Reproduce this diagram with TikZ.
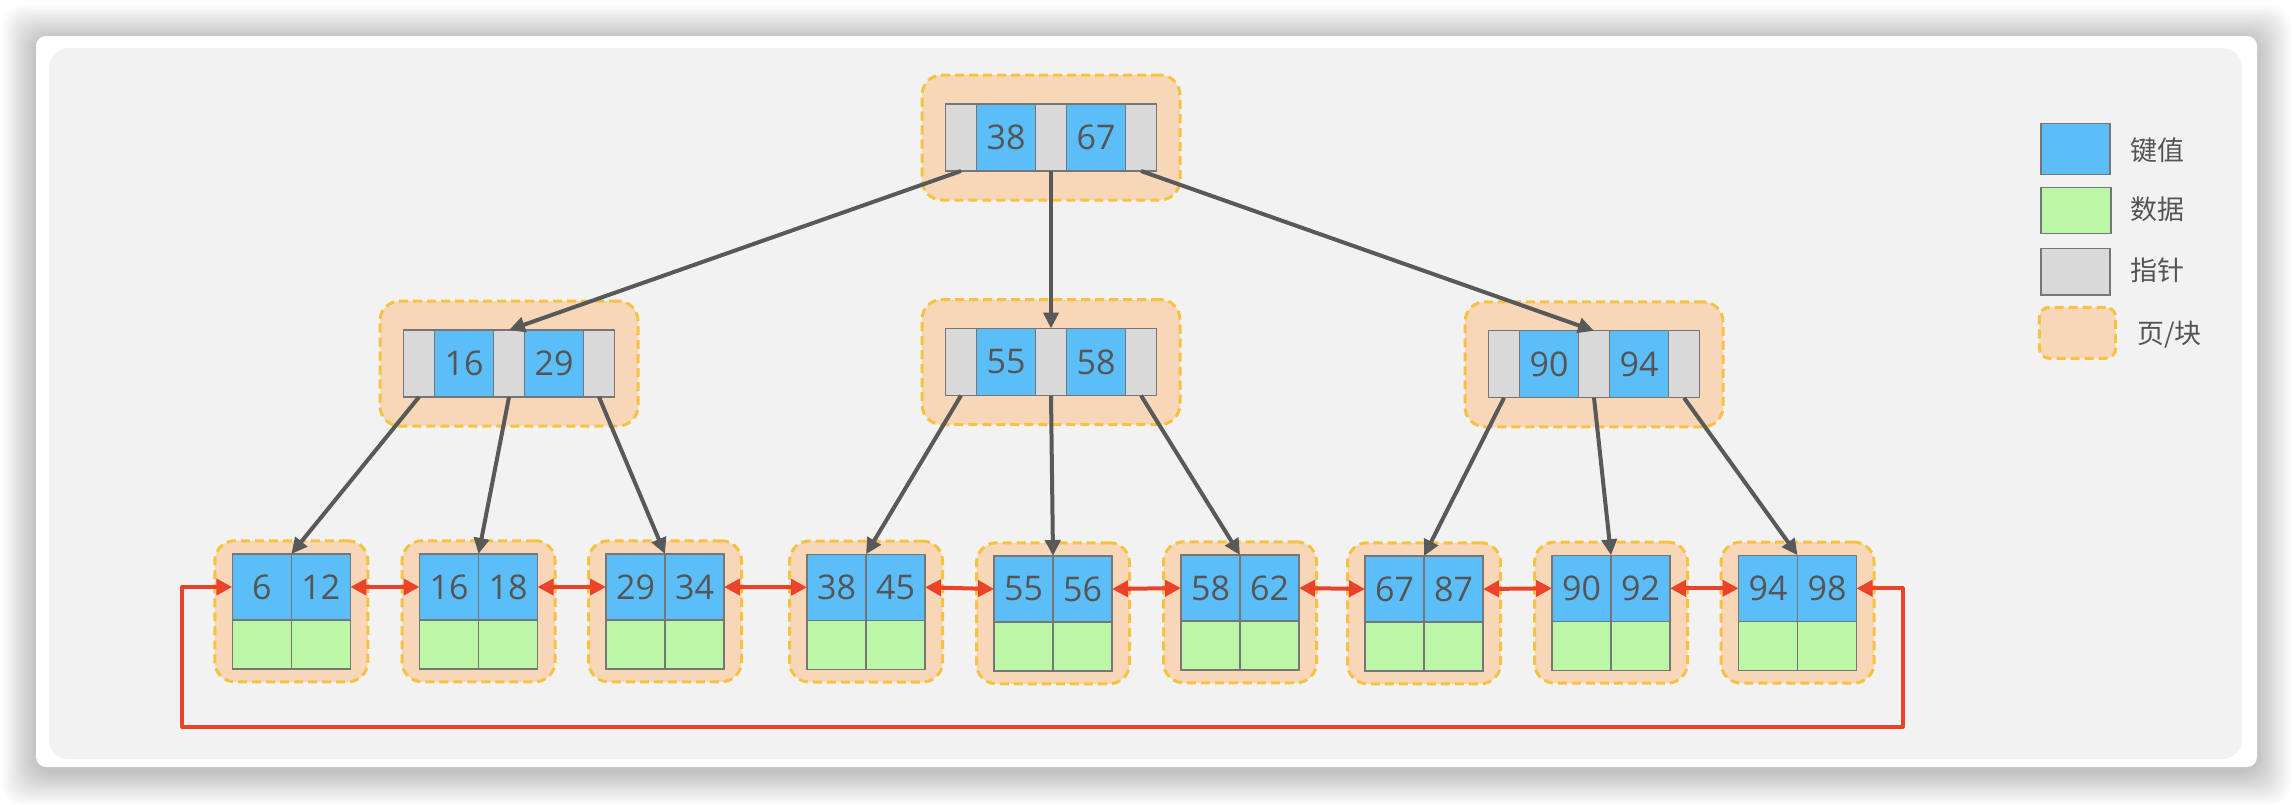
\documentclass[tikz,border=0pt]{standalone}
\usepackage{fontspec}
\newfontfamily\numfont{Open Sans}
\newfontfamily\cjk{Noto Sans CJK SC}
\usetikzlibrary{arrows.meta}
\definecolor{keyblue}{RGB}{91,190,249}
\definecolor{datagreen}{RGB}{187,247,166}
\definecolor{ptrgray}{RGB}{217,217,217}
\definecolor{pagefill}{RGB}{247,215,184}
\definecolor{pageborder}{RGB}{246,194,66}
\definecolor{cellborder}{RGB}{118,118,118}
\definecolor{txtgray}{RGB}{85,85,85}
\definecolor{arrowgray}{RGB}{89,89,89}
\definecolor{linkred}{RGB}{234,67,42}
\definecolor{bggray}{RGB}{242,242,242}
\tikzset{
  cellbase/.style={draw=cellborder, line width=0.6pt, inner sep=0pt, outer sep=0pt,
    text=txtgray, font=\numfont\fontsize{17pt}{20pt}\selectfont},
  keycell/.style={cellbase, fill=keyblue, minimum width=29.5pt, minimum height=33.5pt},
  ptrcell/.style={cellbase, fill=ptrgray, minimum width=15.5pt, minimum height=33.5pt},
  leafkey/.style={cellbase, fill=keyblue, minimum width=29.5pt, minimum height=33pt},
  datacell/.style={cellbase, fill=datagreen, minimum width=29.5pt, minimum height=24.5pt},
  pagebox/.style={fill=pagefill, draw=pageborder, dash pattern=on 4.5pt off 2.5pt,
    line width=1.5pt, rounded corners=10pt, inner sep=0pt},
  grayarrow/.style={draw=arrowgray, line width=2pt, -{Triangle[length=8pt,width=7.5pt]}},
  redarrow/.style={draw=linkred, line width=2pt, line join=round,
    {Triangle[length=8pt,width=8pt]}-{Triangle[length=8pt,width=8pt]}},
  legendtext/.style={anchor=west, inner sep=0pt, text=txtgray, font=\cjk\fontsize{13.5pt}{16pt}\selectfont},
}
% inner node: name, cx, cy, key1, key2
\newcommand\innernode[5]{%
  \node[pagebox, minimum width=129pt, minimum height=62.5pt] (#1) at (#2,#3) {};
  \node[ptrcell] (#1p0) at ({#2-90},#3) {};
  \node[keycell] (#1k0) at ({#2-45},#3) {#4};
  \node[ptrcell] (#1p1) at (#2,#3) {};
  \node[keycell] (#1k1) at ({#2+45},#3) {#5};
  \node[ptrcell] (#1p2) at ({#2+90},#3) {};
}
% leaf node: name, cx, top, key1, key2
\newcommand\leafnode[5]{%
  \node[pagebox, minimum width=76.5pt, minimum height=70.5pt] (#1) at (#2,{#3+57.25}) {};
  \node[leafkey] (#1a) at ({#2-29.5},{#3+33}) {#4};
  \node[leafkey] (#1b) at ({#2+29.5},{#3+33}) {#5};
  \node[datacell] (#1c) at ({#2-29.5},{#3+90.5}) {};
  \node[datacell] (#1d) at ({#2+29.5},{#3+90.5}) {};
}
\begin{document}
\begin{tikzpicture}[x=0.5pt,y=-0.5pt]
\useasboundingbox (0,0) rectangle (2294,804);
\fill[white] (0,0) rectangle (2294,804);
% shadow
\foreach \i in {1,...,20} {
  \fill[black, opacity=0.011, rounded corners=10pt]
    ({36-\i*1.7},{36-\i*1.7+3}) rectangle ({2257+\i*1.7},{767+\i*1.7+4});
}
\fill[white, rounded corners=5pt] (36,36) rectangle (2257,767);
\fill[bggray, rounded corners=10pt] (49,48) rectangle (2242,759);

% tree
\innernode{root}{1051}{137.5}{38}{67}
\innernode{ml}{509}{363.5}{16}{29}
\innernode{mc}{1051}{362}{55}{58}
\innernode{mr}{1594}{364.3}{90}{94}

\leafnode{la}{291.3}{554}{6}{12}
\leafnode{lb}{478.5}{554}{16}{18}
\leafnode{lc}{665}{554}{29}{34}
\leafnode{ld}{866}{554.3}{38}{45}
\leafnode{le}{1053}{556}{55}{56}
\leafnode{lf}{1240}{555}{58}{62}
\leafnode{lg}{1424}{556}{67}{87}
\leafnode{lh}{1611}{555.3}{90}{92}
\leafnode{li}{1797.5}{555.3}{94}{98}

% pointers
\draw[grayarrow] (rootp0.south) -- (mlp1.north);
\draw[grayarrow] (rootp1.south) -- (mcp1.north);
\draw[grayarrow] (rootp2.south) -- (mrp1.north);
\draw[grayarrow] (mlp0.south) -- (laa.north east);
\draw[grayarrow] (mlp1.south) -- (lba.north east);
\draw[grayarrow] (mlp2.south) -- (lca.north east);
\draw[grayarrow] (mcp0.south) -- (lda.north east);
\draw[grayarrow] (mcp1.south) -- (lea.north east);
\draw[grayarrow] (mcp2.south) -- (lfa.north east);
\draw[grayarrow] (mrp0.south) -- (lga.north east);
\draw[grayarrow] (mrp1.south) -- (lha.north east);
\draw[grayarrow] (mrp2.south) -- (lia.north east);

% leaf links
\draw[redarrow] (lab.east) -- (lba.west);
\draw[redarrow] (lbb.east) -- (lca.west);
\draw[redarrow] (lcb.east) -- (lda.west);
\draw[redarrow] (ldb.east) -- (lea.west);
\draw[redarrow] (leb.east) -- (lfa.west);
\draw[redarrow] (lfb.east) -- (lga.west);
\draw[redarrow] (lgb.east) -- (lha.west);
\draw[redarrow] (lhb.east) -- (lia.west);
\coordinate (loopR) at (1902.7,726.7);
\coordinate (loopL) at (182.3,726.7);
\draw[redarrow] (lib.east) -| (loopR) -- (loopL) |- (laa.west);

% legend
\node[cellbase, fill=keyblue, minimum width=34.5pt, minimum height=25.5pt] (lgkey) at (2075.5,149) {};
\node[cellbase, fill=datagreen, minimum width=35pt, minimum height=23pt] (lgdata) at (2076,210.7) {};
\node[cellbase, fill=ptrgray, minimum width=34.5pt, minimum height=23.3pt] (lgptr) at (2075.5,271.7) {};
\node[pagebox, rounded corners=5pt, minimum width=38.2pt, minimum height=25.5pt] (lgpage) at (2077.5,332.8) {};
\node[legendtext] (tkey) at (2130,150) {键值};
\node[legendtext] (tdata) at (2130,209) {数据};
\node[legendtext] (tptr) at (2130,270) {指针};
\node[legendtext] (tpage) at (2136.7,335) {页/块};
\end{tikzpicture}
\end{document}
